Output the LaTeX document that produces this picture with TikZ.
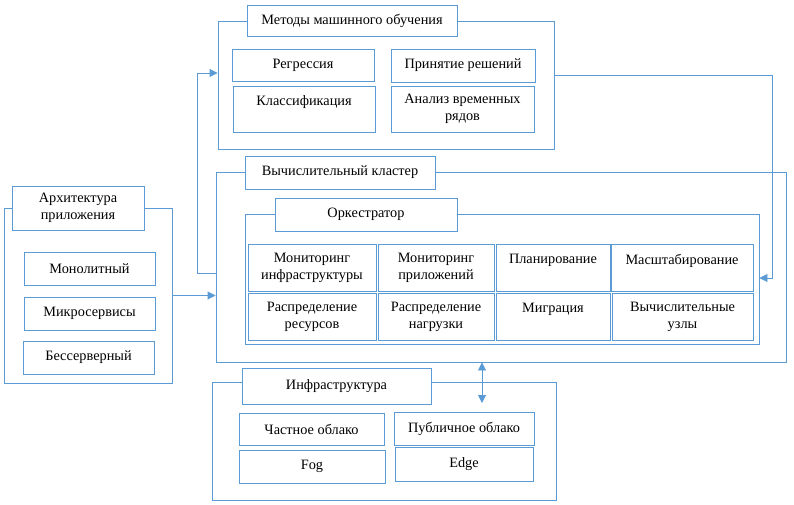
\documentclass[tikz,border=0pt]{standalone}
\usepackage{fontspec}
\setmainfont{Liberation Serif}
\usetikzlibrary{arrows.meta}
\definecolor{lineblue}{HTML}{5B9BD5}
\begin{document}
\begin{tikzpicture}[x=1pt,y=-1pt,
  box/.style={draw=lineblue, line width=0.9pt, fill=white, inner sep=0pt, align=center,
              font=\fontsize{14.3}{17}\selectfont},
  sz/.style 2 args={minimum width=#1pt, minimum height=#2pt},
  conn/.style={draw=lineblue, line width=0.9pt},
  arr/.style={conn, -{Triangle[length=8pt,width=8pt]}},
  darr/.style={conn, {Triangle[length=8pt,width=8pt]}-{Triangle[length=8pt,width=8pt]}}]
\useasboundingbox (0,0) rectangle (794,505);

% ---------- Machine learning methods ----------
\node[box, sz={336}{128}] (ml) at (386,85) {};
\node[box, sz={210}{31}] (mltitle) at (352,20.5) {Методы машинного обучения};
\node[box, sz={142}{32}] (regr) at (303,65) {Регрессия};
\node[box, sz={142}{46}] (classif) at (304,109) {Классификация\\\mbox{}};
\node[box, sz={144}{33}] (decis) at (463,65.5) {Принятие решений};
\node[box, sz={143}{46}] (timeser) at (462.5,109) {Анализ временных\\рядов};

% ---------- Computing cluster ----------
\node[box, sz={570}{190}] (cluster) at (501,267) {};
\node[box, sz={190}{33}] (clustertitle) at (340,172.5) {Вычислительный кластер};
\node[box, sz={514}{130}] (orch) at (502,279) {};
\node[box, sz={182}{33}] (orchtitle) at (366,214.5) {Оркестратор};
\node[box, sz={128}{47}] (moninf) at (312,267.5) {Мониторинг\\инфраструктуры};
\node[box, sz={116}{47}] (monapp) at (436,267.5) {Мониторинг\\приложений};
\node[box, sz={114}{47}] (plan) at (553,267.5) {Планирование\\\mbox{}};
\node[box, sz={142}{47}] (scale) at (682,267.5) {Масштабирование\\\mbox{}};
\node[box, sz={128}{47}] (resdist) at (312,316.5) {Распределение\\ресурсов};
\node[box, sz={116}{47}] (loaddist) at (436,316.5) {Распределение\\нагрузки};
\node[box, sz={114}{47}] (migr) at (553,316.5) {Миграция\\\mbox{}};
\node[box, sz={141}{47}] (nodes) at (682.5,316.5) {Вычислительные\\узлы};

% ---------- Application architecture ----------
\node[box, sz={168}{175}] (arch) at (88,295.5) {};
\node[box, sz={132}{44}] (archtitle) at (78,208) {Архитектура\\приложения};
\node[box, sz={131}{33}] (mono) at (89.5,268.5) {Монолитный};
\node[box, sz={131}{33}] (micro) at (89.5,313.5) {Микросервисы};
\node[box, sz={131}{33}] (serverless) at (88.5,357.5) {Бессерверный};

% ---------- Infrastructure ----------
\node[box, sz={344}{118}] (infra) at (384,441) {};
\node[box, sz={189}{36}] (infratitle) at (336.5,386) {Инфраструктура};
\node[box, sz={145}{32}] (private) at (311.5,429) {Частное облако};
\node[box, sz={146}{33}] (fog) at (312,466.5) {Fog};
\node[box, sz={140}{33}] (public) at (464,428.5) {Публичное облако};
\node[box, sz={138}{34}] (edge) at (464,464) {Edge};

% ---------- Connectors ----------
\coordinate (b1) at (197,273);
\coordinate (b2) at (772,75);
\coordinate (infratip) at (482,403);
\draw[arr] (arch.east) -- (arch.east -| cluster.west);
\draw[arr] (b1 -| cluster.west) -- (b1) |- (ml.west |- 0,73);
\draw[arr] (ml.east |- b2) -- (b2) |- (orch.east |- 0,278);
\draw[darr] (cluster.south -| infratip) -- (infratip);
\end{tikzpicture}
\end{document}
